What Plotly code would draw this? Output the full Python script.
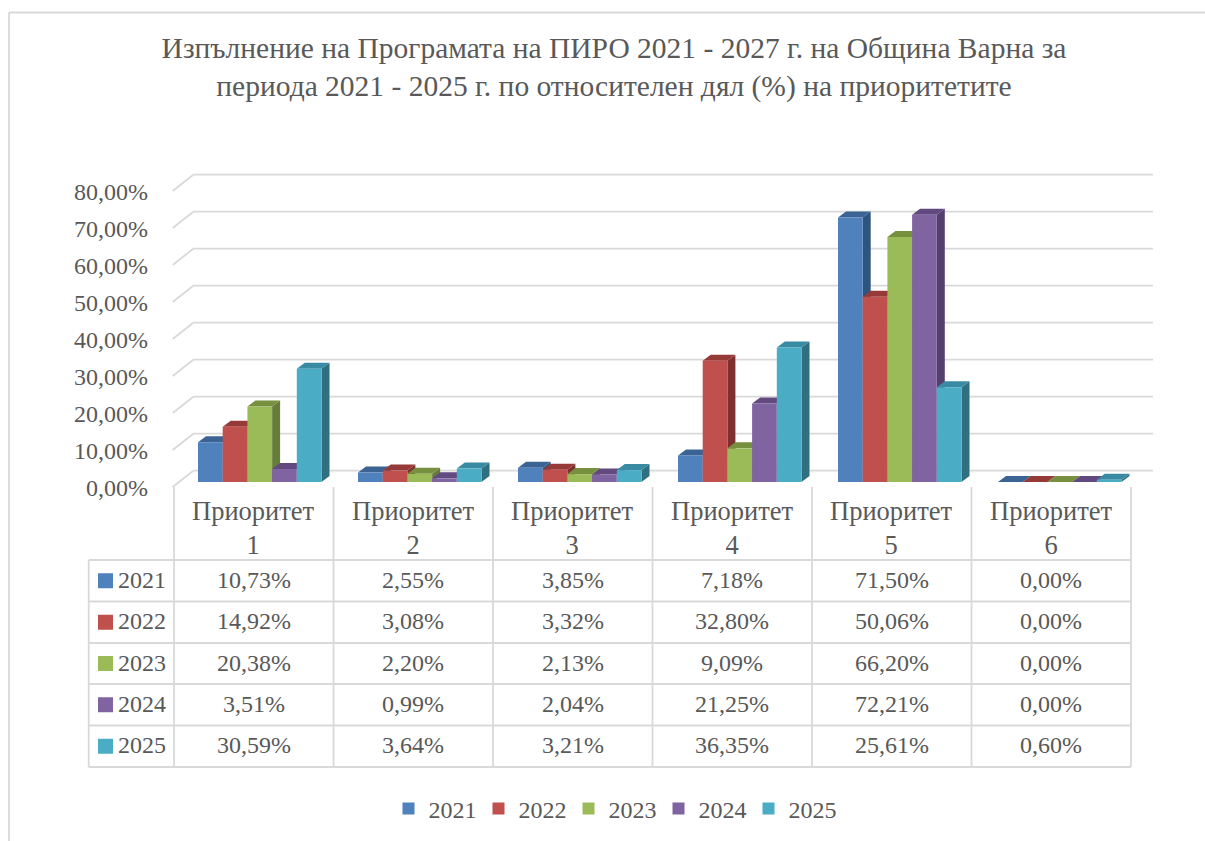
import plotly.graph_objects as go

categories = ["Приоритет 1", "Приоритет 2", "Приоритет 3", "Приоритет 4", "Приоритет 5", "Приоритет 6"]
years = ["2021", "2022", "2023", "2024", "2025"]
v2021 = [10.73, 2.55, 3.85, 7.18, 71.50, 0.00]
v2022 = [14.92, 3.08, 3.32, 32.80, 50.06, 0.00]
v2023 = [20.38, 2.20, 2.13, 9.09, 66.20, 0.00]
v2024 = [3.51, 0.99, 2.04, 21.25, 72.21, 0.00]
v2025 = [30.59, 3.64, 3.21, 36.35, 25.61, 0.60]
series = [v2021, v2022, v2023, v2024, v2025]
tick_values = [0, 10, 20, 30, 40, 50, 60, 70, 80]
front_colors = ["#4F81BD", "#C0504D", "#9BBB59", "#8064A2", "#4BACC6"]
top_colors = ["#3B6495", "#963A38", "#76903F", "#62497F", "#388BA3"]
side_colors = ["#2F5480", "#7E302E", "#667C3B", "#553F6C", "#2F6F80"]

W, H = 1205, 841
TXT = "#595959"
GRID = "#D9D9D9"
FONT = "Liberation Serif"
PX_PER_CAT, PX_PER_PCT = 160.0, 3.7
X_ZERO_PX, Y_ZERO_PX = 259.75, 482.0
x_range = [-X_ZERO_PX / PX_PER_CAT, (W - X_ZERO_PX) / PX_PER_CAT]
y_range = [(Y_ZERO_PX - H) / PX_PER_PCT, Y_ZERO_PX / PX_PER_PCT]

def cx(px):
    return (px - X_ZERO_PX) / PX_PER_CAT

def vy(px):
    return (Y_ZERO_PX - px) / PX_PER_PCT

def fx(px):
    return px / W

def fy(px):
    return 1 - px / H

fig = go.Figure()

# Back wall gridlines and floor diagonals, from the tick values
gx, gy, dx_, dy_ = [], [], [], []
back0 = vy(470.7)
front0 = vy(487.0)
for t in tick_values:
    gx += [cx(193.3), cx(1153), None]
    gy += [t + back0, t + back0, None]
    dx_ += [cx(172.7), cx(193.3), None]
    dy_ += [t + front0, t + back0, None]
fig.add_trace(go.Scatter(x=gx + dx_, y=gy + dy_, mode="lines", line=dict(color=GRID, width=1.8),
                         showlegend=False, hoverinfo="skip"))

# 3D top and side faces
BAR_W = 24.7 / PX_PER_CAT
GROUP = BAR_W * len(years)
DX, DY = 8 / PX_PER_CAT, 6 / PX_PER_PCT
for s, vals in enumerate(series):
    for i, v in enumerate(vals):
        x0 = i - GROUP / 2 + s * BAR_W
        x1 = x0 + BAR_W
        if v > 0:
            fig.add_trace(go.Scatter(x=[x1, x1 + DX, x1 + DX, x1, x1], y=[0, DY, v + DY, v, 0],
                                     mode="lines", fill="toself", fillcolor=side_colors[s],
                                     line=dict(width=0, color=side_colors[s]),
                                     showlegend=False, hoverinfo="skip"))
        fig.add_trace(go.Scatter(x=[x0, x1, x1 + DX, x0 + DX, x0], y=[v, v, v + DY, v + DY, v],
                                 mode="lines", fill="toself", fillcolor=top_colors[s],
                                 line=dict(width=0, color=top_colors[s]),
                                 showlegend=False, hoverinfo="skip"))

# Front faces: real bars on an overlaid axis pair
positions = list(range(len(categories)))
for s, vals in enumerate(series):
    fig.add_trace(go.Bar(x=positions, y=vals, name=years[s], marker=dict(color=front_colors[s], line=dict(width=0)),
                         xaxis="x2", yaxis="y2", customdata=categories,
                         hovertemplate="%{customdata}: %{y:.2f}%<extra>" + years[s] + "</extra>"))

# Value axis labels, carried by an axis shifted to the front edge
fig.add_trace(go.Scatter(x=[0] * len(tick_values), y=tick_values, yaxis="y3", mode="none",
                         showlegend=False, hoverinfo="skip"))

axis_off = dict(visible=False, showgrid=False, zeroline=False)
shift = (488.0 - Y_ZERO_PX) / PX_PER_PCT
shapes = []
annotations = []

def hline(x0, x1, y):
    shapes.append(dict(type="line", xref="paper", yref="paper", x0=fx(x0), x1=fx(x1), y0=fy(y), y1=fy(y),
                       line=dict(color=GRID, width=1.8)))

def vline(x, y0, y1):
    shapes.append(dict(type="line", xref="paper", yref="paper", x0=fx(x), x1=fx(x), y0=fy(y0), y1=fy(y1),
                       line=dict(color=GRID, width=1.8)))

def label(x, y, text, size=24, xanchor="center"):
    annotations.append(dict(xref="paper", yref="paper", x=fx(x), y=fy(y), text=text, showarrow=False,
                            xanchor=xanchor, yanchor="middle", font=dict(family=FONT, size=size, color=TXT)))

# Chart frame
hline(9, W, 12.5)
vline(9, 12.5, H)

# Data table
col_x = [174 + 159.5 * k for k in range(len(categories) + 1)]
row_y = [560, 601.5, 643, 684, 725.5, 767]
for x in col_x:
    vline(x, 487, 767)
vline(88.7, 560, 767)
for y in row_y:
    hline(88.7, col_x[-1], y)
for k, cat in enumerate(categories):
    label((col_x[k] + col_x[k + 1]) / 2, 528, cat.replace(" ", "<br>"), size=26.5)
for s, vals in enumerate(series):
    cy = (row_y[s] + row_y[s + 1]) / 2
    shapes.append(dict(type="rect", xref="paper", yref="paper", x0=fx(98), x1=fx(113), y0=fy(cy - 7.5), y1=fy(cy + 7.5),
                       fillcolor=front_colors[s], line=dict(width=0)))
    label(116, cy - 1, years[s], xanchor="left")
    for k, v in enumerate(vals):
        label((col_x[k] + col_x[k + 1]) / 2, cy - 1, f"{v:.2f}%".replace(".", ","))

fig.update_layout(
    width=W, height=H, autosize=False,
    margin=dict(l=0, r=0, t=0, b=0, pad=0),
    paper_bgcolor="white", plot_bgcolor="rgba(0,0,0,0)",
    barmode="group", bargap=1 - GROUP, bargroupgap=0,
    title=dict(text="Изпълнение на Програмата на ПИРО 2021 - 2027 г. на Община Варна за<br>"
                    "периода 2021 - 2025 г. по относителен дял (%) на приоритетите",
               x=614 / W, xanchor="center", xref="paper", y=1 - 58 / H, yanchor="top", yref="paper",
               font=dict(family=FONT, size=29.5, color=TXT)),
    xaxis=dict(range=x_range, domain=[0, 1], **axis_off),
    yaxis=dict(range=y_range, domain=[0, 1], **axis_off),
    xaxis2=dict(range=x_range, overlaying="x", **axis_off),
    yaxis2=dict(range=y_range, overlaying="y", **axis_off),
    yaxis3=dict(range=[y_range[0] + shift, y_range[1] + shift], overlaying="y", anchor="free", position=148 / W,
                side="left", tickmode="array", tickvals=tick_values,
                ticktext=[f"{t:.2f}%".replace(".", ",") for t in tick_values],
                showgrid=False, zeroline=False, showline=False, ticks="",
                tickfont=dict(family=FONT, size=24, color=TXT)),
    showlegend=True,
    legend=dict(orientation="h", x=388.5 / W, xanchor="left", y=fy(809), yanchor="middle",
                entrywidth=45, entrywidthmode="pixels", traceorder="normal",
                bgcolor="rgba(0,0,0,0)", font=dict(family=FONT, size=24, color=TXT)),
    shapes=shapes, annotations=annotations,
)

fig.write_html("out.html", config={"displayModeBar": False}, post_script="document.body.style.margin='0';")
